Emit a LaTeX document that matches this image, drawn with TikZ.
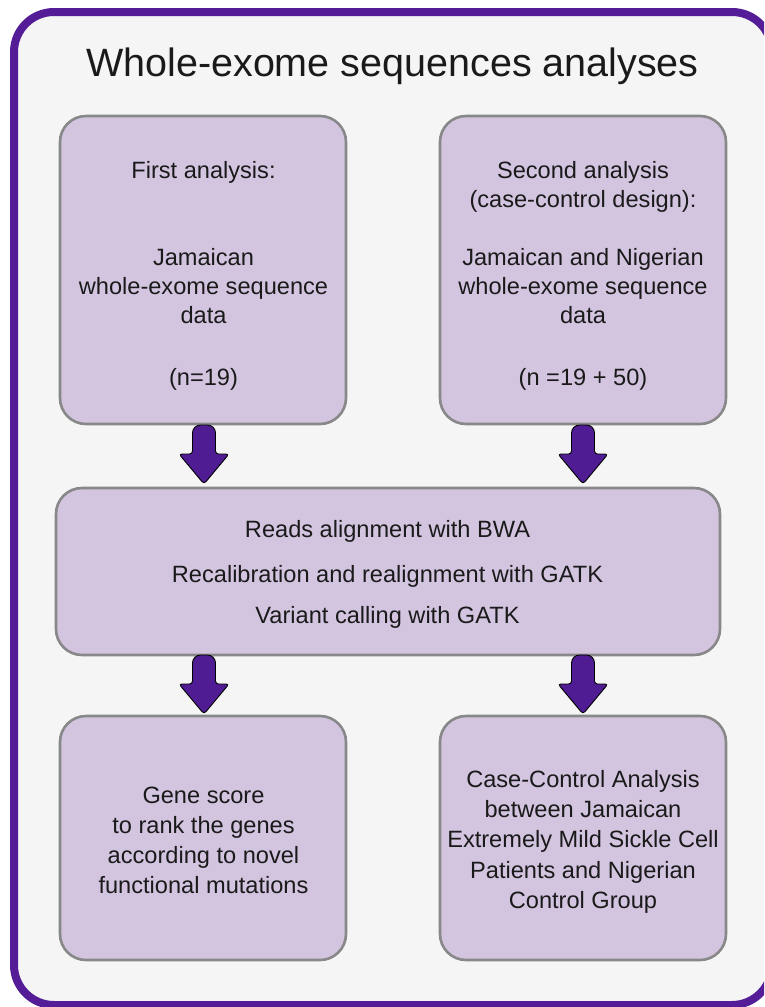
\documentclass[tikz,border=0pt]{standalone}
\usepackage{fontspec}
\setmainfont{Liberation Sans}
\definecolor{framepurple}{RGB}{84,28,150}
\definecolor{arrowpurple}{RGB}{80,28,148}
\definecolor{boxfill}{RGB}{211,197,224}
\definecolor{boxline}{RGB}{136,136,136}
\definecolor{bgcol}{RGB}{245,245,245}
\definecolor{txtcol}{RGB}{26,26,26}
\tikzset{
  stagebox/.style={draw=boxline, fill=boxfill, line width=2.6pt, rounded corners=26pt},
  txt/.style={anchor=base, inner sep=0pt, text=txtcol, font=\fontsize{23.6}{28}\selectfont},
  ttl/.style={anchor=base, inner sep=0pt, text=txtcol, font=\fontsize{39.5}{44}\selectfont},
  arrowsty/.style={draw=black, fill=arrowpurple, line width=0.9pt},
  downarr/.pic={
    \filldraw[arrowsty] (-11.5,29) [rounded corners=8pt] -- (-11.5,0) -- (11.5,0)
      [rounded corners=3pt] -- (11.5,29) -- (25,29) -- (0,59) -- (-25,29) -- cycle;
  }
}
\begin{document}
\begin{tikzpicture}[x=1pt,y=-1pt]
\useasboundingbox (0,0) rectangle (764,1007);
\clip (0,0) rectangle (764,1007);
\fill[white] (0,0) rectangle (764,1007);
\draw[line width=8pt, draw=framepurple, fill=bgcol, rounded corners=40pt] (14,12) rectangle (772,1005);

\node[ttl] (title) at (392.5,76) {Whole-exome sequences analyses};

% boxes
\draw[stagebox] (60,116) rectangle (346,424);
\draw[stagebox] (440,116) rectangle (726,424);
\draw[stagebox] (56,488) rectangle (720,655);
\draw[stagebox] (60,716) rectangle (346,960);
\draw[stagebox] (440,716) rectangle (726,960);

% box 1
\node[txt] (a1) at (203.5,178) {First analysis:};
\node[txt] (a2) at (203.5,265) {Jamaican};
\node[txt] (a3) at (203.5,294) {whole-exome sequence};
\node[txt] (a4) at (203.5,323) {data};
\node[txt] (a5) at (203.5,385) {(n=19)};

% box 2
\node[txt] (b1) at (583,178) {Second analysis};
\node[txt] (b2) at (583,207) {(case-control design):};
\node[txt] (b3) at (583,265) {Jamaican and Nigerian};
\node[txt] (b4) at (583,294) {whole-exome sequence};
\node[txt] (b5) at (583,323) {data};
\node[txt] (b6) at (583,385) {(n =19 + 50)};

% middle
\node[txt] (m1) at (387.5,537) {Reads alignment with BWA};
\node[txt] (m2) at (387.5,582) {Recalibration and realignment with GATK};
\node[txt] (m3) at (387.5,623) {Variant calling with GATK};

% box 3
\node[txt] (c1) at (203.5,803) {Gene score};
\node[txt] (c2) at (203.5,833) {to rank the genes};
\node[txt] (c3) at (203.5,863) {according to novel};
\node[txt] (c4) at (203.5,893) {functional mutations};

% box 4
\node[txt] (d1) at (583,787) {Case-Control Analysis};
\node[txt] (d2) at (583,817) {between Jamaican};
\node[txt] (d3) at (583,847) {Extremely Mild Sickle Cell};
\node[txt] (d4) at (583,878) {Patients and Nigerian};
\node[txt] (d5) at (583,908) {Control Group};

% arrows
\pic at (204,425) {downarr};
\pic at (583,425) {downarr};
\pic at (204,655) {downarr};
\pic at (583,655) {downarr};
\end{tikzpicture}
\end{document}
